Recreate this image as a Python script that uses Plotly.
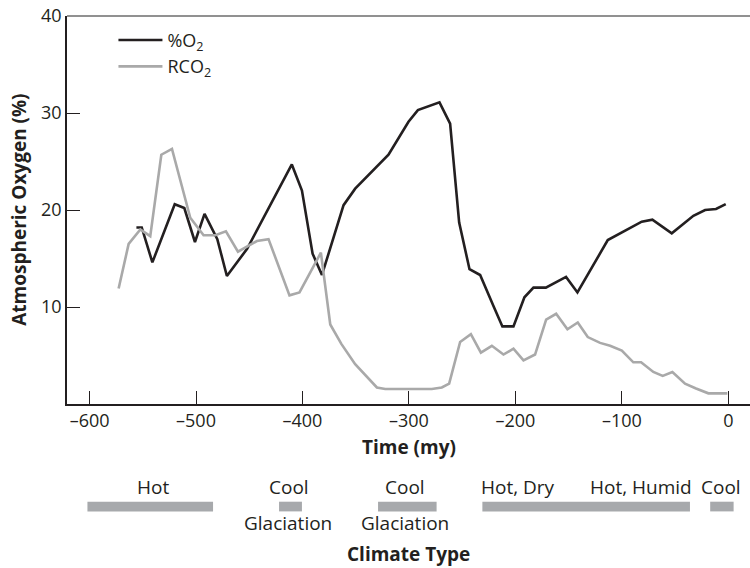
import plotly.graph_objects as go

# Atmospheric O2 and relative CO2 over the Phanerozoic
o2_time = [-556, -551, -541, -520, -511, -501, -492, -480, -471, -452,
           -410, -400.5, -390.5, -381.7, -361.4, -350.5, -319.2, -300.4, -291.6, -271.3,
           -261.3, -252.8, -243.1, -233.1, -220.6, -212.2, -201.8, -191.5, -183, -171.4,
           -152.4, -141.7, -113.2, -81.3, -71.3, -53.1, -32.8, -21.8, -11.5, -2.4]
o2_pct = [18.2, 18.2, 14.6, 20.6, 20.2, 16.7, 19.6, 17.0, 13.2, 16.0,
          24.7, 22.0, 15.5, 13.3, 20.5, 22.2, 25.7, 29.1, 30.3, 31.1,
          28.9, 18.7, 13.9, 13.3, 10.1, 8.0, 8.0, 11.0, 12.0, 12.0,
          13.1, 11.5, 16.9, 18.8, 19.0, 17.6, 19.4, 20.0, 20.1, 20.6]

rco2_time = [-572.7, -563.3, -552.3, -543, -532.6, -522.6, -505.4, -492.9, -481.9, -471.9,
             -460.6, -442.8, -431.9, -412.2, -402.8, -382.7, -373.9, -363.5, -350.5, -330.1,
             -322.3, -278.5, -269.1, -262.2, -251.9, -241.8, -232.4, -222.1, -211.2, -201.8,
             -192.4, -181.5, -171.1, -161.7, -151.1, -141.4, -132, -120.4, -111, -100,
             -89.2, -81.9, -70.4, -61.6, -52.5, -40.6, -30.3, -18.7, -0.9]
rco2_val = [11.9, 16.5, 18.0, 17.3, 25.7, 26.3, 19.2, 17.4, 17.4, 17.8,
            15.7, 16.8, 17.0, 11.2, 11.5, 15.6, 8.2, 6.2, 4.1, 1.7,
            1.55, 1.55, 1.7, 2.1, 6.4, 7.2, 5.3, 6.0, 5.1, 5.7,
            4.5, 5.1, 8.7, 9.3, 7.7, 8.4, 6.9, 6.3, 6.0, 5.5,
            4.3, 4.3, 3.3, 2.9, 3.3, 2.1, 1.6, 1.1, 1.1]

# Climate periods shown beneath the time axis
climate_start = [-602, -422, -329, -231, -17]
climate_end = [-484, -400.5, -274, -36, 5]
climate_top_labels = ["Hot", "Cool", "Cool", "Hot, Dry", "Hot, Humid", "Cool"]
climate_top_pos = [-540.4, -412.5, -303.8, -197.5, -82.4, -7.1]
climate_bottom_labels = ["Glaciation", "Glaciation"]
climate_bottom_pos = [-413.2, -304]

x_tickvals = [-600, -500, -400, -300, -200, -100, 0]
x_ticktext = ["\u2013600", "\u2013500", "\u2013400", "\u2013300", "\u2013200", "\u2013100", "0"]
y_tickvals = [10, 20, 30, 40]

INK = "#231f20"
GREY_LINE = "#a9a9a9"
BAR = "#a7a9ac"
FONT = "Open Sans"

fig = go.Figure()
fig.add_trace(go.Scatter(x=o2_time, y=o2_pct, mode="lines", name="%O<sub>2</sub>",
                         line=dict(color=INK, width=2.6)))
fig.add_trace(go.Scatter(x=rco2_time, y=rco2_val, mode="lines", name="RCO<sub>2</sub>",
                         line=dict(color=GREY_LINE, width=2.6)))

L, R, T, B = 66.7, 0, 16.3, 163.7
H = 568 - T - B

def py(pixel_y):
    """Convert a pixel row on the page to paper y."""
    return (568 - B - pixel_y) / H

fig.update_layout(
    width=750, height=568,
    margin=dict(l=L, r=R, t=T, b=B),
    paper_bgcolor="white", plot_bgcolor="white",
    font=dict(family=FONT, size=18, color=INK),
    showlegend=True,
    legend=dict(x=0.068, y=0.985, xanchor="left", yanchor="top",
                bgcolor="rgba(0,0,0,0)", itemwidth=44,
                font=dict(family=FONT, size=18, color=INK)),
    xaxis=dict(range=[-621.2, 20.4], tickvals=x_tickvals, ticktext=x_ticktext,
               ticks="inside", ticklen=13, tickwidth=1.3, tickcolor=INK,
               showline=True, linecolor=INK, linewidth=1.5, mirror=False,
               showgrid=False, zeroline=False,
               tickfont=dict(family=FONT, size=18, color=INK)),
    yaxis=dict(range=[0, 40], tickvals=y_tickvals,
               ticks="inside", ticklen=13, tickwidth=1.3, tickcolor=INK,
               showline=True, linecolor=INK, linewidth=1.5,
               showgrid=False, zeroline=False,
               tickfont=dict(family=FONT, size=18, color=INK)),
)

# thin grey frame line along the top of the plot area
fig.add_shape(type="line", xref="paper", yref="paper", x0=0, x1=1, y0=1, y1=1,
              line=dict(color="#6d6d6d", width=1.5))

# axis titles
fig.add_annotation(text="<b>Atmospheric Oxygen (%)</b>", xref="paper", yref="paper",
                   x=(18.5 - L) / (750 - L - R), y=0.5, textangle=-90, showarrow=False,
                   xanchor="center", yanchor="middle", font=dict(size=19, color=INK))
fig.add_annotation(text="<b>Time (my)</b>", xref="paper", yref="paper",
                   x=0.5, y=py(447), showarrow=False, xanchor="center", yanchor="middle",
                   font=dict(size=19, color=INK))
fig.add_annotation(text="<b>Climate Type</b>", xref="paper", yref="paper",
                   x=0.5, y=py(554), showarrow=False, xanchor="center", yanchor="middle",
                   font=dict(size=19, color=INK))

# climate bars
for x0, x1 in zip(climate_start, climate_end):
    fig.add_shape(type="rect", xref="x", yref="paper", x0=x0, x1=x1,
                  y0=py(511.7), y1=py(502), line=dict(width=0), fillcolor=BAR)

for label, xpos in zip(climate_top_labels, climate_top_pos):
    fig.add_annotation(text=label, xref="x", yref="paper", x=xpos, y=py(487),
                       showarrow=False, xanchor="center", yanchor="middle",
                       font=dict(size=19, color=INK))
for label, xpos in zip(climate_bottom_labels, climate_bottom_pos):
    fig.add_annotation(text=label, xref="x", yref="paper", x=xpos, y=py(523),
                       showarrow=False, xanchor="center", yanchor="middle",
                       font=dict(size=19, color=INK))

fig.write_html("out.html")
